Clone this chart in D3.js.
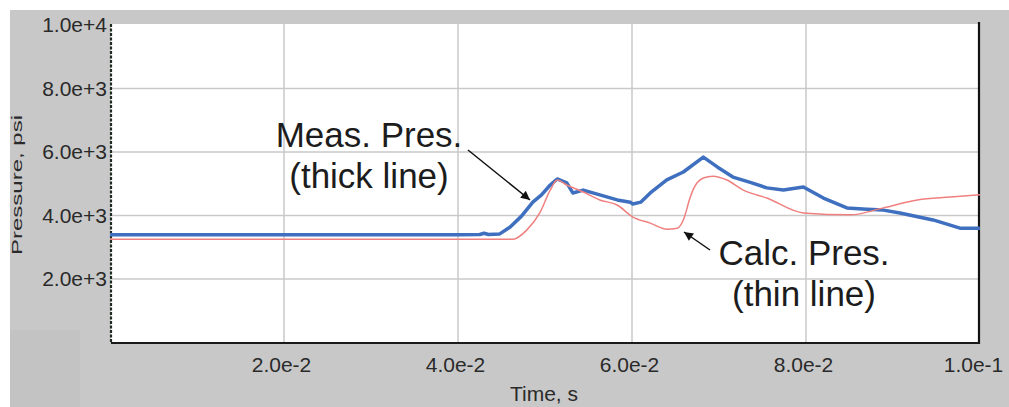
<!DOCTYPE html>
<html>
<head>
<meta charset="utf-8">
<script src="https://cdn.jsdelivr.net/npm/d3@7"></script>
<style>
  html, body { margin: 0; padding: 0; background: #fff; }
  svg { display: block; font-family: "Liberation Sans", Arial, sans-serif; }
</style>
</head>
<body>
<svg id="chart" width="1009" height="407"></svg>
<script>
// Pressure trace data: time in seconds, pressure in psi
const measTime = [0, 0.040, 0.0425, 0.043, 0.0435, 0.0448, 0.0460, 0.0473, 0.0486, 0.0496, 0.0506, 0.0514, 0.0525, 0.0532, 0.0544, 0.0563, 0.0583, 0.0598, 0.0601, 0.0610, 0.0621, 0.0640, 0.0659, 0.0682, 0.0698, 0.0716, 0.0735, 0.0755, 0.0774, 0.0797, 0.0820, 0.0847, 0.0870, 0.0889, 0.0908, 0.0946, 0.0977, 0.1];
const measPres = [3390, 3390, 3400, 3440, 3400, 3420, 3640, 3980, 4420, 4650, 4960, 5150, 5030, 4710, 4800, 4650, 4490, 4420, 4360, 4420, 4710, 5120, 5370, 5840, 5530, 5210, 5050, 4870, 4800, 4900, 4550, 4240, 4200, 4170, 4080, 3860, 3600, 3600];

const calcTime = [0, 0.0463, 0.0479, 0.0494, 0.0506, 0.0514, 0.0525, 0.0544, 0.0563, 0.0583, 0.0601, 0.0621, 0.0640, 0.0652, 0.0659, 0.0667, 0.0670, 0.0682, 0.0693, 0.0709, 0.0728, 0.0755, 0.0797, 0.0851, 0.0889, 0.0928, 0.0966, 0.1];
const calcPres = [3250, 3250, 3540, 4080, 4800, 5120, 4960, 4740, 4490, 4330, 3950, 3760, 3570, 3600, 3860, 4580, 4800, 5180, 5240, 5120, 4800, 4550, 4080, 4020, 4240, 4490, 4580, 4650];

const xTickValues = [0.02, 0.04, 0.06, 0.08, 0.1];
const xTickLabels = ["2.0e-2", "4.0e-2", "6.0e-2", "8.0e-2", "1.0e-1"];
const yTickValues = [2000, 4000, 6000, 8000, 10000];
const yTickLabels = ["2.0e+3", "4.0e+3", "6.0e+3", "8.0e+3", "1.0e+4"];

const svg = d3.select("#chart");

// panel geometry
const plot = { left: 111, right: 979, top: 24, bottom: 343 };

const x = d3.scaleLinear().domain([0, 0.1]).range([110, 980]);
const y = d3.scaleLinear().domain([0, 10000]).range([342.5, 25]);

// grey frame
svg.append("rect").attr("x", 10).attr("y", 10).attr("width", 999).attr("height", 397).attr("fill", "#c8c8c8");
svg.append("rect").attr("x", 10).attr("y", 330).attr("width", 70).attr("height", 77).attr("fill", "#c3c3c3");

// white plot area
svg.append("rect")
  .attr("x", plot.left).attr("y", plot.top)
  .attr("width", plot.right - plot.left).attr("height", plot.bottom - plot.top)
  .attr("fill", "#ffffff");

// grid lines
const grid = svg.append("g").attr("stroke", "#c9c9c9").attr("stroke-width", 1.5);
grid.selectAll("line.h").data(yTickValues.filter(v => v < 10000)).join("line")
  .attr("x1", plot.left).attr("x2", plot.right)
  .attr("y1", d => y(d)).attr("y2", d => y(d));
grid.selectAll("line.v").data(xTickValues.filter(v => v < 0.1)).join("line")
  .attr("x1", d => x(d)).attr("x2", d => x(d))
  .attr("y1", plot.top).attr("y2", plot.bottom + 5);

// y tick labels
const yAxis = svg.append("g")
  .attr("transform", `translate(${plot.left},0)`)
  .call(d3.axisLeft(y).tickValues(yTickValues).tickSize(0).tickPadding(4)
    .tickFormat((d, i) => yTickLabels[i]));
yAxis.select(".domain").remove();
yAxis.selectAll("text").attr("font-size", 21).attr("fill", "#2a2a2a")
  .attr("font-family", "'Liberation Sans', Arial, sans-serif");

// x tick labels
const xAxis = svg.append("g")
  .attr("transform", `translate(0,${plot.bottom})`)
  .call(d3.axisBottom(x).tickValues(xTickValues).tickSize(0).tickPadding(14)
    .tickFormat((d, i) => xTickLabels[i]));
xAxis.select(".domain").remove();
xAxis.selectAll("text").attr("font-size", 21).attr("fill", "#2a2a2a")
  .attr("font-family", "'Liberation Sans', Arial, sans-serif")
  .attr("dx", (d, i, n) => i === n.length - 1 ? -7 : -3);

// axis frame lines
svg.append("line").attr("x1", plot.left).attr("x2", plot.left)
  .attr("y1", plot.top).attr("y2", plot.bottom)
  .attr("stroke", "#1f2a22").attr("stroke-width", 2.2).attr("stroke-dasharray", "3,1.5");
svg.append("line").attr("x1", plot.right).attr("x2", plot.right)
  .attr("y1", plot.top - 2).attr("y2", plot.bottom + 1)
  .attr("stroke", "#111").attr("stroke-width", 2.2);
svg.append("line").attr("x1", plot.left).attr("x2", plot.right + 1)
  .attr("y1", plot.bottom).attr("y2", plot.bottom)
  .attr("stroke", "#1a1a1a").attr("stroke-width", 2.2);

// axis titles
svg.append("text").attr("x", 544).attr("y", 401).attr("text-anchor", "middle")
  .attr("font-size", 21).attr("fill", "#2a2a2a").text("Time, s");
svg.append("text")
  .attr("transform", "translate(22,185) rotate(-90)")
  .attr("text-anchor", "middle")
  .attr("font-size", 14).attr("fill", "#2a2a2a")
  .attr("textLength", 140).attr("lengthAdjust", "spacingAndGlyphs")
  .text("Pressure, psi");

// traces
const measLine = d3.line().x(d => x(d[0])).y(d => y(d[1]));
const calcLine = d3.line().x(d => x(d[0])).y(d => y(d[1])).curve(d3.curveMonotoneX);
const calcData = calcTime.map((t, i) => [t, calcPres[i]]);
const measData = measTime.map((t, i) => [t, measPres[i]]);

svg.append("path").datum(measData)
  .attr("d", measLine).attr("fill", "none")
  .attr("stroke", "#3f6fbf").attr("stroke-width", 3.5)
  .attr("stroke-linejoin", "round");
svg.append("path").datum(calcData)
  .attr("d", calcLine).attr("fill", "none")
  .attr("stroke", "#f08080").attr("stroke-width", 1.5)
  .attr("stroke-linejoin", "round");

// annotation arrows
svg.append("defs").append("marker")
  .attr("id", "head").attr("viewBox", "0 0 10 10")
  .attr("refX", 10).attr("refY", 5)
  .attr("markerWidth", 12).attr("markerHeight", 9)
  .attr("markerUnits", "userSpaceOnUse")
  .attr("orient", "auto")
  .append("path").attr("d", "M0,0 L10,5 L0,10 Z").attr("fill", "#111");

svg.append("line").attr("x1", 468).attr("y1", 150).attr("x2", 530).attr("y2", 200)
  .attr("stroke", "#111").attr("stroke-width", 1.5).attr("marker-end", "url(#head)");
svg.append("line").attr("x1", 710).attr("y1", 250).attr("x2", 684).attr("y2", 232)
  .attr("stroke", "#111").attr("stroke-width", 1.5).attr("marker-end", "url(#head)");

// annotation labels
const note = (cx, y0, lines) => {
  lines.forEach((s, i) => {
    svg.append("text").attr("x", cx).attr("y", y0 + i * 41)
      .attr("text-anchor", "middle").attr("font-size", 35)
      .attr("fill", "#1c1c1c").text(s);
  });
};
note(369, 147, ["Meas. Pres.", "(thick line)"]);
note(804, 265, ["Calc. Pres.", "(thin line)"]);
</script>
</body>
</html>
